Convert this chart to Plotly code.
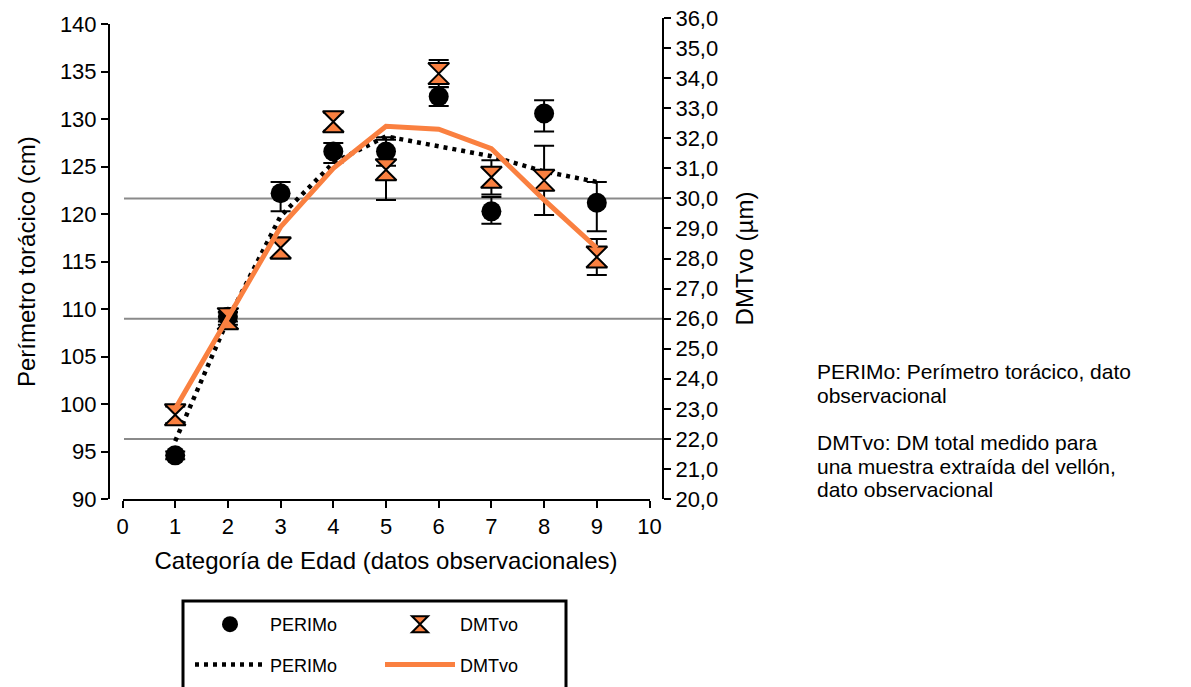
import plotly.graph_objects as go

# ---------------- data ----------------
categories = [1, 2, 3, 4, 5, 6, 7, 8, 9]
perim_obs = [94.6, 109.2, 122.2, 126.6, 126.6, 132.4, 120.3, 130.6, 121.2]
perim_err_plus = [0.4, 0.5, 1.2, 0.9, 1.5, 1.0, 1.5, 1.4, 2.2]
perim_err_minus = [0.4, 0.5, 1.9, 1.2, 1.5, 1.0, 1.3, 1.9, 3.0]
perim_fit = [96.1, 108.9, 119.8, 125.4, 128.2, 127.2, 126.1, 124.5, 123.4]

dmt_obs = [22.8, 26.0, 28.35, 32.55, 30.95, 34.15, 30.7, 30.6, 28.05]
dmt_err = [0.28, 0.2, 0.35, 0.3, 1.0, 0.45, 0.57, 1.15, 0.6]
dmt_fit = [23.0, 26.0, 29.05, 31.0, 32.4, 32.3, 31.65, 29.95, 28.35]

grid_values_right = [22, 26, 30]
left_ticks = [90, 95, 100, 105, 110, 115, 120, 125, 130, 135, 140]
right_ticks = list(range(20, 37))
x_ticks = list(range(0, 11))

note_lines = [
    "PERIMo: Perímetro torácico, dato",
    "observacional",
    "",
    "DMTvo: DM total medido para",
    "una muestra extraída del vellón,",
    "dato observacional",
]

# ---------------- layout geometry (pixels) ----------------
W, H = 1191, 687
L, R = 109, 663          # plot area left / right
T, B = 18, 499           # plot area top / bottom
PW, PH = R - L, B - T


def px_x(p):
    return (p - L) / PW


def px_y(p):
    return (B - p) / PH


ORANGE = "#FA8040"
FONT = "Liberation Sans, Arial, sans-serif"

fig = go.Figure()

fig.add_trace(go.Scatter(
    x=categories, y=perim_obs, mode="markers", name="PERIMo",
    xaxis="x", yaxis="y",
    marker=dict(symbol="circle", size=20, color="black"),
    error_y=dict(type="data", symmetric=False, array=perim_err_plus,
                 arrayminus=perim_err_minus, color="black", thickness=2, width=10),
    legend="legend", legendgroup="a", showlegend=True,
))
fig.add_trace(go.Scatter(
    x=categories, y=perim_fit, mode="lines", name="PERIMo",
    xaxis="x", yaxis="y",
    line=dict(color="black", width=4.5, dash="4px,5px"),
    legend="legend", legendgroup="b",
))
fig.add_trace(go.Scatter(
    x=categories, y=dmt_obs, mode="markers", name="DMTvo",
    xaxis="x", yaxis="y2",
    marker=dict(symbol="hourglass", size=21, color=ORANGE,
                line=dict(color="black", width=2)),
    error_y=dict(type="data", array=dmt_err, color="black", thickness=2, width=10),
    legend="legend2", legendgroup="c",
))
fig.add_trace(go.Scatter(
    x=categories, y=dmt_fit, mode="lines", name="DMTvo",
    xaxis="x", yaxis="y2",
    line=dict(color=ORANGE, width=5),
    legend="legend2", legendgroup="d",
))

shapes = []
for g in grid_values_right:
    shapes.append(dict(type="line", xref="paper", yref="y2",
                       x0=px_x(124), x1=1, y0=g, y1=g,
                       line=dict(color="#8a8a8a", width=2), layer="below"))
shapes.append(dict(type="rect", xref="paper", yref="paper",
                   x0=px_x(183), x1=px_x(566), y0=px_y(601), y1=px_y(705),
                   line=dict(color="black", width=3), fillcolor="rgba(0,0,0,0)"))

annotations = []
for i, t in enumerate(note_lines):
    if not t:
        continue
    annotations.append(dict(
        text=t, xref="paper", yref="paper", x=px_x(815), y=px_y(372 + 23.5 * i),
        xanchor="left", yanchor="middle", showarrow=False, align="left",
        font=dict(family=FONT, size=21, color="black"),
    ))

axis_common = dict(showline=True, linecolor="black", linewidth=2, ticks="outside",
                   tickcolor="black", tickwidth=2, ticklen=7, showgrid=False,
                   zeroline=False, tickfont=dict(family=FONT, size=22, color="black"))

fig.update_layout(
    width=W, height=H,
    margin=dict(l=L, r=W - R, t=T, b=H - B, autoexpand=False),
    paper_bgcolor="white", plot_bgcolor="rgba(0,0,0,0)",
    separators=",.",
    font=dict(family=FONT, color="black"),
    xaxis=dict(domain=[px_x(122.5), px_x(649.5)], range=[0, 10], tickvals=x_ticks,
               anchor="y2", automargin=False,
               title=dict(text="Categoría de Edad (datos observacionales)",
                          font=dict(family=FONT, size=24), standoff=14),
               **axis_common),
    yaxis=dict(domain=[0, px_y(24.3)], range=[90, 140], tickvals=left_ticks,
               anchor="free", position=0, side="left", automargin=False,
               title=dict(text="Perímetro torácico (cm)",
                          font=dict(family=FONT, size=24), standoff=16),
               **axis_common),
    yaxis2=dict(domain=[0, 1], range=[20, 36], tickvals=right_ticks, tickformat=".1f",
                anchor="free", position=1, side="right", automargin=False,
                title=dict(text="DMTvo (µm)", font=dict(family=FONT, size=24), standoff=18),
                **axis_common),
    legend=dict(x=px_x(190), y=px_y(606), xanchor="left", yanchor="top",
                bgcolor="rgba(0,0,0,0)", borderwidth=0, itemwidth=70,
                tracegroupgap=14, traceorder="grouped",
                font=dict(family=FONT, size=18, color="black")),
    legend2=dict(x=px_x(380), y=px_y(606), xanchor="left", yanchor="top",
                 bgcolor="rgba(0,0,0,0)", borderwidth=0, itemwidth=70,
                 tracegroupgap=14, traceorder="grouped",
                 font=dict(family=FONT, size=18, color="black")),
    shapes=shapes,
    annotations=annotations,
)

fig.write_html("out.html")
